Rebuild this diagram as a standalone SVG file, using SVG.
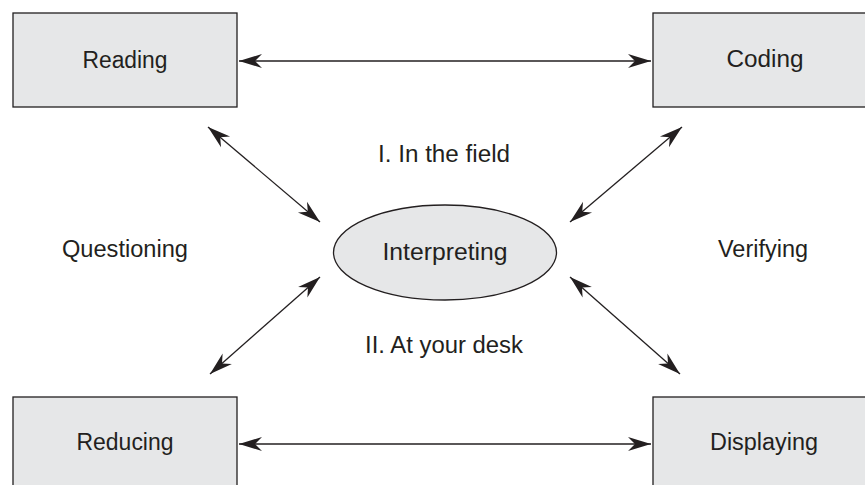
<svg xmlns="http://www.w3.org/2000/svg" width="865" height="485" viewBox="0 0 865 485">
<style>
.box{fill:#e6e7e8;stroke:#231f20;stroke-width:1.3}
.lbl{font-family:"Liberation Sans",Arial,sans-serif;font-size:23.5px;fill:#231f20;text-anchor:middle}
.con{stroke:#231f20;stroke-width:1.3;fill:none;marker-start:url(#ah);marker-end:url(#ah)}
</style>
<defs>
<marker id="ah" markerUnits="userSpaceOnUse" markerWidth="26" markerHeight="16" viewBox="-24 -8 26 16" refX="0" refY="0" orient="auto-start-reverse">
<path d="M0,0 L-23,-7 L-16,0 L-23,7 Z" fill="#231f20"/>
</marker>
</defs>
<rect width="865" height="485" fill="#ffffff"/>
<g id="connectors">
<line class="con" x1="239" y1="61" x2="651" y2="61"/>
<line class="con" x1="239" y1="444" x2="651" y2="444"/>
<line class="con" x1="208" y1="127" x2="320" y2="222"/>
<line class="con" x1="682" y1="127" x2="570" y2="222"/>
<line class="con" x1="210" y1="374" x2="320" y2="277"/>
<line class="con" x1="680" y1="374" x2="570" y2="277"/>
</g>
<g id="reading">
<rect class="box" x="13" y="13" width="224" height="94"/>
<text class="lbl" x="125" y="68" textLength="85" lengthAdjust="spacingAndGlyphs">Reading</text>
</g>
<g id="coding">
<rect class="box" x="653" y="13" width="224" height="94"/>
<text class="lbl" x="765" y="67" textLength="77" lengthAdjust="spacingAndGlyphs">Coding</text>
</g>
<g id="reducing">
<rect class="box" x="13" y="397" width="224" height="100"/>
<text class="lbl" x="125" y="450" textLength="97" lengthAdjust="spacingAndGlyphs">Reducing</text>
</g>
<g id="displaying">
<rect class="box" x="653" y="397" width="224" height="100"/>
<text class="lbl" x="764" y="450" textLength="108" lengthAdjust="spacingAndGlyphs">Displaying</text>
</g>
<g id="interpreting">
<ellipse class="box" cx="445" cy="252.5" rx="111.5" ry="47.5"/>
<text class="lbl" x="445" y="260" textLength="125" lengthAdjust="spacingAndGlyphs">Interpreting</text>
</g>
<g id="labels">
<text class="lbl" x="444" y="162" textLength="132" lengthAdjust="spacingAndGlyphs">I. In the field</text>
<text class="lbl" x="444" y="353" textLength="158" lengthAdjust="spacingAndGlyphs">II. At your desk</text>
<text class="lbl" x="125" y="257" textLength="126" lengthAdjust="spacingAndGlyphs">Questioning</text>
<text class="lbl" x="763" y="257" textLength="90" lengthAdjust="spacingAndGlyphs">Verifying</text>
</g>
</svg>
